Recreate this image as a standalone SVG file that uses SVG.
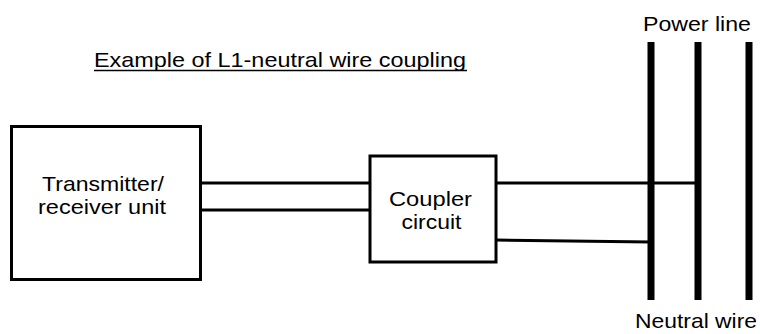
<svg xmlns="http://www.w3.org/2000/svg" width="760" height="334" viewBox="0 0 760 334">
<style>
text{font-family:"Liberation Sans",Arial,sans-serif;font-size:21px;fill:#000}
.box{fill:#fff;stroke:#000;stroke-width:3}
.w{stroke:#000;stroke-width:3;fill:none}
.bus{stroke:#000;stroke-width:7;fill:none}
</style>
<rect width="760" height="334" fill="#fff"/>
<g id="connectors">
<line class="w" x1="202" y1="183" x2="370" y2="183"/>
<line class="w" x1="202" y1="210" x2="370" y2="210"/>
<line class="w" x1="496" y1="183" x2="698" y2="183"/>
<line class="w" x1="496" y1="240" x2="651" y2="242"/>
</g>
<g id="power-line">
<line class="bus" x1="651" y1="42" x2="651" y2="300"/>
<line class="bus" x1="698" y1="42" x2="698" y2="300"/>
<line class="bus" x1="749" y1="42" x2="749" y2="300"/>
<text x="643" y="31" textLength="108" lengthAdjust="spacingAndGlyphs">Power line</text>
<text x="635" y="328" textLength="122" lengthAdjust="spacingAndGlyphs">Neutral wire</text>
</g>
<g id="title">
<text x="94" y="67" textLength="372" lengthAdjust="spacingAndGlyphs">Example of L1-neutral wire coupling</text>
<line x1="94" y1="70.5" x2="467" y2="70.5" stroke="#000" stroke-width="1.5"/>
</g>
<g id="transceiver">
<rect class="box" x="11.5" y="126.5" width="189" height="153"/>
<text x="42" y="191" textLength="122" lengthAdjust="spacingAndGlyphs">Transmitter/</text>
<text x="38" y="214" textLength="128" lengthAdjust="spacingAndGlyphs">receiver unit</text>
</g>
<g id="coupler">
<rect class="box" x="370" y="156" width="126" height="106"/>
<text x="389" y="206" textLength="83" lengthAdjust="spacingAndGlyphs">Coupler</text>
<text x="401.5" y="229" textLength="60" lengthAdjust="spacingAndGlyphs">circuit</text>
</g>
</svg>
